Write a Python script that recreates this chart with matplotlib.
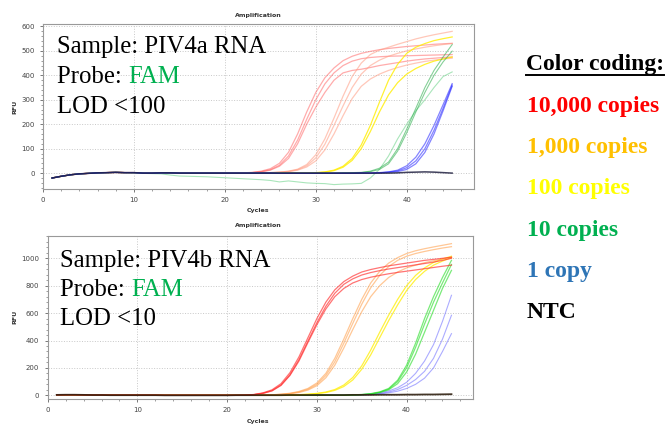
import numpy as np
import matplotlib
matplotlib.use("Agg")
import matplotlib.pyplot as plt
from matplotlib.lines import Line2D

W, H = 668, 426
cycles = np.arange(1, 46)

# ---- PIV4a (top panel) ----
# cycles 1-20 are flat for every well, read once
a_base = [-20, -13, -7, -3, -1, 1, 2, 3, 2, 2, 0, 0, 1, 1, 0, 0, 0, 0, 0, 0]
# cycles 21-45
a_red = [
    [0, 1, 3, 8, 18, 40, 85, 160, 250, 330, 390, 430, 460, 478, 490, 498, 505, 510, 514, 518, 521, 524, 527, 529, 531],
    [0, 1, 2, 6, 14, 32, 70, 135, 220, 300, 365, 410, 440, 458, 468, 473, 476, 478, 479, 480, 481, 482, 483, 484, 485],
    [0, 1, 2, 5, 12, 28, 60, 120, 200, 270, 330, 380, 410, 420, 425, 432, 440, 446, 452, 458, 463, 467, 470, 473, 475],
]
a_salmon = [
    [0, 0, 0, 1, 2, 4, 8, 16, 35, 75, 140, 225, 315, 395, 450, 485, 503, 515, 527, 538, 549, 558, 566, 573, 580],
    [0, 0, 0, 1, 2, 4, 7, 14, 30, 62, 118, 195, 275, 350, 405, 440, 462, 478, 490, 500, 508, 515, 521, 526, 530],
    [0, 0, 0, 0, 1, 3, 6, 12, 25, 50, 95, 160, 235, 305, 355, 385, 405, 420, 432, 442, 450, 457, 462, 467, 470],
]
a_yellow = [
    [0, 0, 0, 0, 0, 0, 0, 0, 0, 2, 5, 12, 28, 60, 115, 195, 290, 380, 445, 490, 515, 530, 542, 550, 557],
    [0, 0, 0, 0, 0, 0, 0, 0, 0, 1, 4, 10, 24, 52, 100, 170, 250, 320, 370, 405, 428, 445, 458, 467, 475],
]
a_green = [
    [0, 0, 0, 0, 0, 0, 0, 0, 0, 0, 0, 0, 1, 2, 3, 8, 20, 45, 100, 180, 265, 350, 420, 475, 526],
    [0, 0, 0, 0, 0, 0, 0, 0, 0, 0, 0, 0, 1, 1, 2, 6, 15, 38, 90, 165, 250, 330, 400, 455, 499],
]
# one green well drifts below baseline, cycles 1-45
a_green_drift = [-20, -13, -7, -3, -1, 1, 2, 3, 2, 1, -1, -2, -3, -8, -12, -13, -14, -15, -17, -19,
                 -21, -23, -25, -27, -30, -36, -32, -36, -40, -42, -43, -47, -45, -44, -42,
                 -20, 15, 70, 140, 200, 255, 300, 350, 395, 414]
a_blue = [
    [0, 0, 0, 0, 0, -1, -1, -1, -1, -1, -1, -1, -1, -1, 0, 0, 2, 5, 12, 30, 65, 120, 195, 280, 366],
    [0, 0, 0, 0, 0, -1, -1, -1, -1, -1, -1, -1, -1, -1, 0, 0, 1, 4, 9, 22, 50, 100, 175, 265, 360],
    [0, 0, 0, 0, 0, -1, -1, -1, -1, -1, -1, -1, -1, -1, 0, 0, 1, 3, 6, 15, 38, 85, 160, 255, 355],
]
a_ntc = [0, 0, 0, 0, 0, 0, 0, 0, 0, 0, 0, 0, 0, 0, 0, 0, 0, 0, 1, 3, 4, 5, 4, 2, 0]

# ---- PIV4b (bottom panel) ----
b_base = [3, 4, 4, 3, 2, 2, 1, 1, 1, 1, 1, 1, 0, 0, 0, 0, 0, 0, 0, 0]
b_red = [
    [0, 2, 6, 18, 40, 85, 165, 280, 420, 560, 680, 770, 830, 870, 900, 918, 932, 945, 955, 965, 975, 985, 992, 1000, 1008],
    [0, 1, 5, 15, 34, 75, 150, 260, 395, 530, 650, 745, 810, 850, 878, 896, 910, 922, 932, 942, 952, 962, 972, 985, 1000],
    [0, 1, 5, 14, 32, 72, 145, 250, 385, 515, 630, 720, 780, 820, 845, 862, 875, 887, 897, 906, 915, 924, 933, 942, 950],
]
b_orange = [
    [0, 0, 1, 2, 4, 8, 15, 28, 50, 90, 160, 270, 410, 560, 700, 820, 905, 965, 1005, 1035, 1055, 1070, 1083, 1095, 1107],
    [0, 0, 1, 2, 3, 7, 13, 24, 44, 80, 145, 245, 380, 525, 665, 785, 875, 940, 985, 1015, 1035, 1050, 1063, 1075, 1085],
    [0, 0, 0, 1, 3, 6, 11, 20, 38, 70, 128, 220, 345, 480, 610, 720, 800, 860, 900, 930, 950, 968, 982, 995, 1008],
]
b_yellow = [
    [0, 0, 0, 0, 1, 2, 3, 5, 8, 14, 24, 42, 75, 130, 215, 330, 460, 585, 700, 800, 875, 930, 970, 995, 1015],
    [0, 0, 0, 0, 0, 1, 2, 4, 7, 12, 20, 36, 64, 112, 190, 295, 420, 545, 660, 765, 845, 905, 950, 980, 1005],
]
b_green = [
    [0, 0, 0, 0, 0, 0, 0, 0, 0, 0, 0, 0, 0, 3, 6, 12, 25, 50, 110, 220, 380, 560, 720, 860, 985],
    [0, 0, 0, 0, 0, 0, 0, 0, 0, 0, 0, 0, 0, 2, 5, 10, 22, 45, 100, 200, 350, 520, 680, 820, 955],
    [0, 0, 0, 0, 0, 0, 0, 0, 0, 0, 0, 0, 0, 2, 4, 9, 20, 40, 85, 170, 300, 460, 620, 780, 912],
]
b_blue = [
    [0, 0, 0, 0, 0, 0, 0, 0, 0, 0, 0, 0, 0, 2, 5, 10, 18, 32, 55, 95, 160, 250, 370, 540, 730],
    [0, 0, 0, 0, 0, 0, 0, 0, 0, 0, 0, 0, 0, 1, 3, 7, 13, 24, 42, 72, 115, 175, 270, 410, 584],
    [0, 0, 0, 0, 0, 0, 0, 0, 0, 0, 0, 0, 0, 0, 2, 5, 10, 18, 30, 50, 80, 125, 200, 320, 450],
]
b_ntc = [1, 1, 1, 1, 1, 1, 2, 2, 2, 2, 2, 2, 2, 3, 3, 3, 4, 4, 4, 5, 5, 6, 6, 7, 8]

legend_labels = ["10,000 copies", "1,000 copies", "100 copies", "10 copies", "1 copy", "NTC"]
legend_colors = ["#ff0000", "#ffc000", "#ffff00", "#00b050", "#2e75b6", "#000000"]

fig = plt.figure(figsize=(W / 100, H / 100), dpi=100)


def px_axes(left, top, right, bottom):
    return fig.add_axes([left / W, 1 - bottom / H, (right - left) / W, (bottom - top) / H])


def draw_panel(ax, base, groups, ylim, ymajor, yminor, title_y, cycles_y):
    for curves, color, alpha, lw in groups:
        for c in curves:
            y = c if len(c) == 45 else list(base) + list(c)
            ax.plot(cycles, y, color=color, alpha=alpha, lw=lw)
    ax.set_xlim(0, 47.4)
    ax.set_xticks([0, 10, 20, 30, 40])
    ax.set_xticks(np.arange(0, 47, 2), minor=True)
    ax.set_yticks(np.arange(0, ylim[1], ymajor))
    ax.set_yticks(np.arange(-ymajor, ylim[1], yminor), minor=True)
    ax.set_ylim(*ylim)
    ax.grid(True, which="major", color="#c8c8c8", ls=":", lw=0.7)
    ax.tick_params(labelsize=5, colors="#444444", length=2.5, width=0.5)
    ax.tick_params(which="minor", length=1.5, width=0.5, colors="#777777")
    for s in ax.spines.values():
        s.set_color("#999999")
        s.set_linewidth(0.8)
    ax.set_axisbelow(True)
    fig.text(258 / W, 1 - title_y / H, "Amplification", fontsize=4.5, weight="bold",
             color="#333333", ha="center", va="center")
    fig.text(258 / W, 1 - cycles_y / H, "Cycles", fontsize=4.5, weight="bold",
             color="#333333", ha="center", va="center")


ax1 = px_axes(43, 24, 474, 189)
draw_panel(ax1, a_base, [
    (a_red, "#ff5a5a", 0.5, 0.9),
    (a_salmon, "#ff9a80", 0.55, 0.9),
    (a_yellow, "#ffee00", 0.8, 0.9),
    ([a_green_drift], "#55cc77", 0.5, 0.8),
    (a_green, "#22aa44", 0.55, 0.8),
    (a_blue, "#2020ff", 0.55, 0.9),
    ([a_ntc], "#202040", 0.85, 1.1),
], (-65, 610), 100, 20, 15, 211)
ax1.set_ylabel("RFU", fontsize=4.5, weight="bold", color="#333333", labelpad=3)

ax2 = px_axes(47.7, 235.7, 473, 399)
draw_panel(ax2, b_base, [
    (b_blue, "#5a5aff", 0.5, 0.8),
    (b_green, "#22dd22", 0.6, 0.9),
    (b_yellow, "#ffee00", 0.75, 0.9),
    (b_orange, "#ff9a40", 0.55, 0.9),
    (b_red, "#ff2a2a", 0.65, 0.9),
    ([b_ntc], "#302010", 0.9, 1.3),
], (-27, 1165), 200, 40, 226, 422)
ax2.set_ylabel("RFU", fontsize=4.5, weight="bold", color="#333333", labelpad=3)

serif = "Liberation Serif"


def sample_text(x, y0, dy, name, lod):
    fig.text(x / W, 1 - y0 / H, "Sample: " + name, fontsize=17.8, family=serif, va="baseline")
    t = fig.text(x / W, 1 - (y0 + dy) / H, "Probe: ", fontsize=17.8, family=serif, va="baseline")
    fig.canvas.draw()
    bb = t.get_window_extent()
    fig.text(bb.x1 / W, 1 - (y0 + dy) / H, "FAM", fontsize=17.8, family=serif,
             color="#00b050", va="baseline")
    fig.text(x / W, 1 - (y0 + 2 * dy) / H, lod, fontsize=17.8, family=serif, va="baseline")


sample_text(57, 53, 30, "PIV4a RNA", "LOD <100")
sample_text(60, 267, 29, "PIV4b RNA", "LOD <10")

hdr = fig.text(526 / W, 1 - 70 / H, "Color coding:", fontsize=17, family=serif,
               weight="bold", va="baseline")
fig.canvas.draw()
hb = hdr.get_window_extent()
fig.add_artist(Line2D([hb.x0 / W, hb.x1 / W], [1 - 75 / H, 1 - 75 / H],
                      color="black", lw=1.4, transform=fig.transFigure))
for i, (lab, col) in enumerate(zip(legend_labels, legend_colors)):
    fig.text(527 / W, 1 - (112 + i * 41.2) / H, lab, fontsize=17, family=serif,
             weight="bold", color=col, va="baseline")

fig.savefig("out.png", dpi=100)
